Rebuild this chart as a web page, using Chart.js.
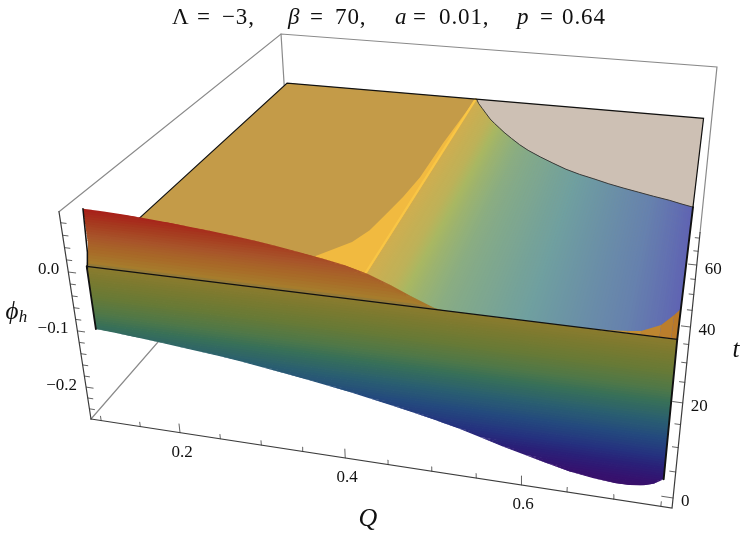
<!DOCTYPE html>
<html>
<head>
<meta charset="utf-8">
<title>phi_h surface</title>
<script src="https://cdn.jsdelivr.net/npm/chart.js@4/dist/chart.umd.js"></script>
<style>
  html, body { margin: 0; padding: 0; background: #fff; }
  canvas { display: block; }
</style>
</head>
<body>
<canvas id="plot" width="747" height="541"></canvas>
<script>
// Values. Surface lives on Q .1-.75, t 0-70.
const wallQ = [0.10, 0.125, 0.15, 0.175, 0.20, 0.225, 0.25, 0.275, 0.30, 0.325, 0.35, 0.375, 0.40, 0.425, 0.45,
    0.475, 0.50, 0.51, 0.525, 0.55, 0.575, 0.60, 0.625, 0.65, 0.675, 0.70, 0.715, 0.73, 0.74, 0.75];
const wallBottom = [-0.1073, -0.1095, -0.1122, -0.1152, -0.1185, -0.122, -0.1252, -0.1295, -0.1342, -0.1392, -0.1447, -0.1503, -0.156, -0.1626, -0.1696,
    -0.1768, -0.1842, -0.1875, -0.1927, -0.2025, -0.2132, -0.2225, -0.2312, -0.2397, -0.2455, -0.2482, -0.2478, -0.2445, -0.2395, -0.229];
const wallTop = [0.0885, 0.0878, 0.0865, 0.0842, 0.0815, 0.0787, 0.0757, 0.0722, 0.0682, 0.0635, 0.0584, 0.0526, 0.046, 0.0365, 0.0245,
    0.0125, 0.0015, 0, 0, 0, 0, 0, 0, 0, 0, 0, 0, 0, 0, 0];

const sheetQ = [0.408, 0.415, 0.425, 0.435, 0.445, 0.455, 0.465, 0.475, 0.49, 0.505, 0.52, 0.54, 0.56, 0.58, 0.60,
    0.62, 0.64, 0.66, 0.68, 0.70, 0.72, 0.735, 0.75];
const sheetEdgeT = [70, 68, 65.8, 63.6, 61.4, 59.6, 57.9, 56.2, 53.9, 51.7, 49.8, 47.7, 45.8, 44, 42.6,
    41.5, 40.3, 39.3, 38.4, 37.5, 36.7, 35.9, 35.2];
const sheetPhi = [0, -0.005, -0.013, -0.022, -0.031, -0.04, -0.05, -0.06, -0.072, -0.083, -0.09, -0.098, -0.106, -0.113, -0.12,
    -0.128, -0.136, -0.144, -0.152, -0.16, -0.175, -0.187, -0.2];

const wedgeQ = [0.3375, 0.369, 0.380, 0.3868, 0.3935, 0.3986, 0.40, 0.4064];
const wedgeT = [8.97, 14.1, 17.9, 23.4, 28.9, 36.1, 49.6, 70];
const creaseQ = 0.408;

const capQ = [0.66, 0.68, 0.70, 0.7135, 0.7323, 0.744, 0.75];
const capT = [0, 0.16, 0.5, 0.86, 2.7, 5.3, 6.85];

const qTicks = [0.10, 0.15, 0.20, 0.25, 0.30, 0.35, 0.40, 0.45, 0.50, 0.55, 0.60, 0.65, 0.70, 0.75];
const qLabels = [0.2, 0.4, 0.6];
const tTicks = [0, 5, 10, 15, 20, 25, 30, 35, 40, 45, 50, 55, 60, 65, 70];
const tLabels = [0, 20, 40, 60];
const phiTicks = [-0.24, -0.22, -0.20, -0.18, -0.16, -0.14, -0.12, -0.10, -0.08, -0.06, -0.04, -0.02, 0, 0.02, 0.04, 0.06, 0.08];
const phiLabels = [-0.2, -0.1, 0];

// box ranges and camera (fitted to the box corners)
const Q_MIN = 0.0869, Q_MAX = 0.7617;
const T_MIN = -1.85, T_MAX = 72.2;
const PHI_MIN = -0.259, PHI_MAX = 0.0975;
const Q_LO = 0.10, Q_HI = 0.75, T_HI = 70;

function project(q, t, phi) {
    const X = (q - Q_MIN) / (Q_MAX - Q_MIN);
    const Y = (t - T_MIN) / (T_MAX - T_MIN);
    const Z = (phi - PHI_MIN) / (PHI_MAX - PHI_MIN);
    const w = -0.1014 * X + 0.426 * Y - 0.0827 * Z + 1;
    return {
        x: (512.9 * X + 323.4 * Y - 36.9 * Z + 91) / w,
        y: (37.5 * X - 148.5 * Y - 224.8 * Z + 419) / w,
    };
}

// colour ramps, phi -> colour
const WALL_RAMP = [
    [-0.26, '#3d0d66'], [-0.235, '#35126f'], [-0.21, '#2a2078'], [-0.19, '#25327f'], [-0.16, '#244a7e'],
    [-0.13, '#2a5f70'], [-0.10, '#387058'], [-0.08, '#4f7848'], [-0.05, '#687a36'], [-0.025, '#797a30'],
    [-0.001, '#8b7b2e'], [0.001, '#8f7a3a'], [0.006, '#a67c2c'], [0.02, '#a86c28'], [0.045, '#a8532a'], [0.065, '#a63c20'], [0.09, '#a81c18'],
];
const SHEET_RAMP = [
    [-0.2, '#5f63b3'], [-0.16, '#6680ae'], [-0.12, '#6f9fa0'], [-0.08, '#8cae80'], [-0.045, '#a9b862'],
    [-0.03, '#bdb259'], [0, '#d0ae50'],
];
const CAP_RAMP = [[0.66, '#c49c42'], [0.70, '#c39235'], [0.725, '#be8530'], [0.75, '#b87728']];

function rgbOf(hex) {
    return [1, 3, 5].map(i => parseInt(hex.slice(i, i + 2), 16));
}
function rampColor(ramp, v) {
    if (v <= ramp[0][0]) return ramp[0][1];
    for (let i = 1; i < ramp.length; i++) {
        if (v <= ramp[i][0]) {
            const f = (v - ramp[i - 1][0]) / (ramp[i][0] - ramp[i - 1][0]);
            const a = rgbOf(ramp[i - 1][1]), b = rgbOf(ramp[i][1]);
            return `rgb(${a.map((c, k) => Math.round(c + (b[k] - c) * f)).join(',')})`;
        }
    }
    return ramp[ramp.length - 1][1];
}

const datasets = [];

function addShape(points, color) {
    datasets.push({
        data: points, showLine: true, fill: 'shape', backgroundColor: color,
        borderWidth: 0, borderColor: 'rgba(0,0,0,0)', pointRadius: 0, pointHoverRadius: 0,
    });
}
function addLine(points, color, width) {
    datasets.push({
        data: points, showLine: true, fill: false, borderColor: color,
        borderWidth: width, pointRadius: 0, pointHoverRadius: 0, borderCapStyle: 'round',
    });
}

const BOX_GREY = '#8a8a8a', AXIS_DARK = '#3c3c3c', EDGE = '#111111';

// back edges of the box
addLine([project(Q_MIN, T_MIN, PHI_MAX), project(Q_MIN, T_MAX, PHI_MAX), project(Q_MAX, T_MAX, PHI_MAX), project(Q_MAX, T_MAX, PHI_MIN)], BOX_GREY, 1.2);
addLine([project(Q_MIN, T_MAX, PHI_MAX), project(Q_MIN, T_MAX, PHI_MIN)], BOX_GREY, 1.2);
addLine([project(Q_MIN, T_MIN, PHI_MIN), project(Q_MIN, T_MAX, PHI_MIN)], BOX_GREY, 1.2);

// flat sheet at phi = 0
addShape([project(Q_LO, 0, 0), project(Q_HI, 0, 0), project(Q_HI, T_HI, 0), project(Q_LO, T_HI, 0)], '#c49b48');

// region behind the curve where the surface ends
addShape([...sheetQ.map((q, i) => project(q, sheetEdgeT[i], 0)), project(Q_HI, T_HI, 0), project(creaseQ, T_HI, 0)], '#cdc0b4');

// colour field between crease and that curve, fine strips in Q
const SUB = 6;
for (let i = 0; i < sheetQ.length - 1; i++) {
    for (let k = 0; k < SUB; k++) {
        const f0 = k / SUB, f1 = (k + 1) / SUB;
        const q0 = sheetQ[i] + (sheetQ[i + 1] - sheetQ[i]) * f0;
        const q1 = Math.min(Q_HI, sheetQ[i] + (sheetQ[i + 1] - sheetQ[i]) * f1 + 0.0008);
        const t0 = sheetEdgeT[i] + (sheetEdgeT[i + 1] - sheetEdgeT[i]) * f0;
        const t1 = sheetEdgeT[i] + (sheetEdgeT[i + 1] - sheetEdgeT[i]) * f1;
        const p = sheetPhi[i] + (sheetPhi[i + 1] - sheetPhi[i]) * (f0 + f1) / 2;
        addShape([project(q0, 0, 0), project(q1, 0, 0), project(q1, t1, 0), project(q0, t0, 0)], rampColor(SHEET_RAMP, p));
    }
}

// bright wedge left of the crease
addShape([...wedgeQ.map((q, i) => project(q, wedgeT[i], 0)), project(creaseQ, T_HI, 0), project(creaseQ, 1, 0), project(0.30, 1, 0)], '#f1ba40');
addLine([project(creaseQ - 0.0015, T_HI, 0), project(creaseQ - 0.0015, 2, 0)], '#f9c645', 2.2);

// orange corner by the front right
for (let i = 0; i < capQ.length - 1; i++) {
    addShape([project(capQ[i], 0, 0), project(capQ[i + 1], 0, 0), project(capQ[i + 1], capT[i + 1], 0), project(capQ[i], capT[i], 0)],
        rampColor(CAP_RAMP, (capQ[i] + capQ[i + 1]) / 2));
}

// sheet outline
addLine(sheetQ.map((q, i) => project(q, sheetEdgeT[i], 0)), '#3a3a3a', 1);
addLine([project(Q_LO, 0, 0), project(Q_LO, T_HI, 0), project(Q_HI, T_HI, 0), project(Q_HI, sheetEdgeT[sheetEdgeT.length - 1], 0)], EDGE, 1.2);
addLine([project(Q_HI, sheetEdgeT[sheetEdgeT.length - 1], 0), project(Q_HI, 0, 0)], EDGE, 1.9);

// front wall, painted as bands of equal phi
const wallT = phi => Math.max(0, Math.min(1, phi / 0.03));
const BAND = 0.004;
for (let lev = -0.252; lev < 0.09; lev += BAND) {
    const clampAt = (v, i) => Math.max(wallBottom[i], Math.min(wallTop[i], v));
    const upper = wallQ.map((q, i) => {
        const p = clampAt(lev + BAND + 0.0015, i);
        return project(q, wallT(p), p);
    });
    const lower = wallQ.map((q, i) => {
        const p = clampAt(lev, i);
        return project(q, wallT(p), p);
    }).reverse();
    addShape([...upper, ...lower], rampColor(WALL_RAMP, lev + BAND / 2));
}

// dark edges of the wall and the front line of the sheet
addLine([project(Q_LO, 0, wallBottom[0]), project(Q_LO, 0, 0)], EDGE, 1.8);
addLine([project(Q_LO, 0, -0.004), project(Q_LO, 0.6, 0.02), project(Q_LO, 1, wallTop[0])], EDGE, 1.5);
addLine([project(Q_HI, 0, 0), project(Q_HI, 0, wallBottom[wallBottom.length - 1])], EDGE, 1.9);
addLine([project(Q_LO, 0, 0), project(Q_HI, 0, 0)], EDGE, 1.3);

// axes
addLine([project(Q_MIN, T_MIN, PHI_MIN), project(Q_MIN, T_MIN, PHI_MAX)], AXIS_DARK, 1.2);
addLine([project(Q_MIN, T_MIN, PHI_MIN), project(Q_MAX, T_MIN, PHI_MIN), project(Q_MAX, T_MAX, PHI_MIN)], AXIS_DARK, 1.2);

qTicks.forEach(q => {
    const len = qLabels.some(v => Math.abs(v - q) < 1e-6) ? 0.016 : 0.008;
    addLine([project(q, T_MIN, PHI_MIN), project(q, T_MIN, PHI_MIN + len)], AXIS_DARK, 0.8);
});
tTicks.forEach(t => {
    const len = tLabels.includes(t) ? 0.012 : 0.0065;
    addLine([project(Q_MAX, t, PHI_MIN), project(Q_MAX - len, t, PHI_MIN)], AXIS_DARK, 0.8);
});
phiTicks.forEach(p => {
    const len = phiLabels.some(v => Math.abs(v - p) < 1e-6) ? 0.009 : 0.0065;
    addLine([project(Q_MIN, T_MIN, p), project(Q_MIN + len, T_MIN, p)], AXIS_DARK, 0.8);
});

// first dataset ends up on top in Chart.js, so flip the painter order
datasets.reverse();

const SERIF = '"Liberation Serif", serif';
const titleParts = [
    ['\u039b', 172, false], ['=', 197, false], ['\u22123,', 222, false],
    ['\u03b2', 288, true], ['=', 310, false], ['70,', 335, false],
    ['a', 395, true], ['=', 413, false], ['0.01,', 439, false],
    ['p', 517, true], ['=', 540, false], ['0.64', 562, false],
];

const textPlugin = {
    id: 'plotText',
    afterDatasetsDraw(chart) {
        const { ctx, scales } = chart;
        const px = p => ({ x: scales.x.getPixelForValue(p.x), y: scales.y.getPixelForValue(p.y) });
        const put = (s, x, y, font, align) => {
            ctx.font = font;
            ctx.textAlign = align;
            ctx.fillText(s, x, y);
        };
        ctx.save();
        ctx.fillStyle = '#111';
        ctx.textBaseline = 'middle';

        ctx.letterSpacing = '0.9px';
        titleParts.forEach(([s, x, ital]) => put(s, x, 17.5, `${ital ? 'italic ' : ''}23px ${SERIF}`, 'left'));
        ctx.letterSpacing = '0px';

        const tickFont = `17px ${SERIF}`;
        qLabels.forEach(q => {
            const p = px(project(q, T_MIN, PHI_MIN));
            put(q.toFixed(1), p.x + 2, p.y + 19.5, tickFont, 'center');
        });
        tLabels.forEach(t => {
            const p = px(project(Q_MAX, t, PHI_MIN));
            put(String(t), p.x + 8, p.y + 4, tickFont, 'left');
        });
        phiLabels.forEach(v => {
            const p = px(project(Q_MIN, T_MIN, v));
            const s = v === 0 ? '0.0' : '\u2212' + Math.abs(v).toFixed(1);
            put(s, p.x - 9, p.y - 2, tickFont, 'right');
        });

        put('Q', 368, 519, `italic 26px ${SERIF}`, 'center');
        put('t', 736, 350, `italic 25px ${SERIF}`, 'center');
        put('\u03d5', 12, 312, `italic 25px ${SERIF}`, 'center');
        put('h', 23, 318, `italic 17px ${SERIF}`, 'center');
        ctx.restore();
    },
};

new Chart(document.getElementById('plot'), {
    type: 'scatter',
    data: { datasets },
    plugins: [textPlugin],
    options: {
        responsive: false,
        animation: false,
        events: [],
        layout: { padding: 0 },
        elements: { line: { tension: 0 } },
        plugins: { legend: { display: false }, tooltip: { enabled: false }, title: { display: false } },
        scales: {
            x: { type: 'linear', display: false, min: 0, max: 747 },
            y: { type: 'linear', display: false, min: 0, max: 541, reverse: true },
        },
    },
});
</script>
</body>
</html>
